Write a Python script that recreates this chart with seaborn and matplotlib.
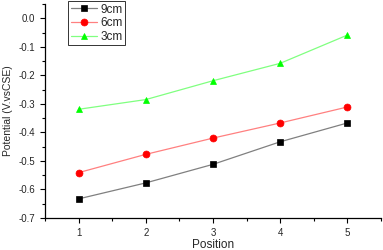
import matplotlib
matplotlib.use("Agg")
import matplotlib.pyplot as plt
import seaborn as sns
import pandas as pd
from matplotlib.ticker import MultipleLocator

sns.set_style("ticks")
plt.rcParams["font.family"] = ["Liberation Sans", "DejaVu Sans"]

position = [1, 2, 3, 4, 5]
cm9 = [-0.633, -0.577, -0.512, -0.433, -0.367]
cm6 = [-0.541, -0.477, -0.420, -0.367, -0.311]
cm3 = [-0.319, -0.285, -0.219, -0.158, -0.059]

series = [
    ("9cm", cm9, "#808080", "#000000", "s"),
    ("6cm", cm6, "#ff8080", "#ff0000", "o"),
    ("3cm", cm3, "#80ff80", "#00ff00", "^"),
]

fig = plt.figure(figsize=(3.83, 2.5), dpi=100)
ax = fig.add_axes([0.1175, 0.128, 0.877, 0.856])

for name, vals, lc, mc, mk in series:
    df = pd.DataFrame({"Position": position, "Potential": vals})
    sns.lineplot(data=df, x="Position", y="Potential", ax=ax, color=lc,
                 marker=mk, markersize=5, markerfacecolor=mc,
                 markeredgecolor=mc, markeredgewidth=0.5, linewidth=0.9,
                 label=name)

ax.set_xlim(0.5, 5.5)
ax.set_ylim(-0.7, 0.05)
ax.xaxis.set_major_locator(MultipleLocator(1))
ax.xaxis.set_minor_locator(MultipleLocator(0.5))
ax.yaxis.set_minor_locator(MultipleLocator(0.05))
ax.set_yticks([-0.7, -0.6, -0.5, -0.4, -0.3, -0.2, -0.1, 0.0])
ax.set_yticklabels(["-0.7", "-0.6", "-0.5", "-0.4", "-0.3", "-0.2", "-0.1", "0.0"])
ax.tick_params(which="major", length=3.5, width=0.8, labelsize=7, direction="out", color="black")
ax.tick_params(which="minor", length=2, width=0.8, direction="out", color="black")
sns.despine(ax=ax)
for s in ("left", "bottom"):
    ax.spines[s].set_color("black")
    ax.spines[s].set_linewidth(0.9)

ax.set_xlabel("Position", fontsize=8.5, labelpad=1)
ax.set_ylabel("Potential (V.vsCSE)", fontsize=7.5, labelpad=4)

leg = ax.legend(loc="upper left", bbox_to_anchor=(0.175, 1.0), bbox_transform=fig.transFigure,
                fontsize=8.5, frameon=True, fancybox=False, handlelength=2.2,
                borderpad=0.2, labelspacing=0.15, handletextpad=0.3, borderaxespad=0.1)
leg.get_frame().set_edgecolor("black")
leg.get_frame().set_linewidth(0.7)

fig.savefig("out.png", dpi=100)
